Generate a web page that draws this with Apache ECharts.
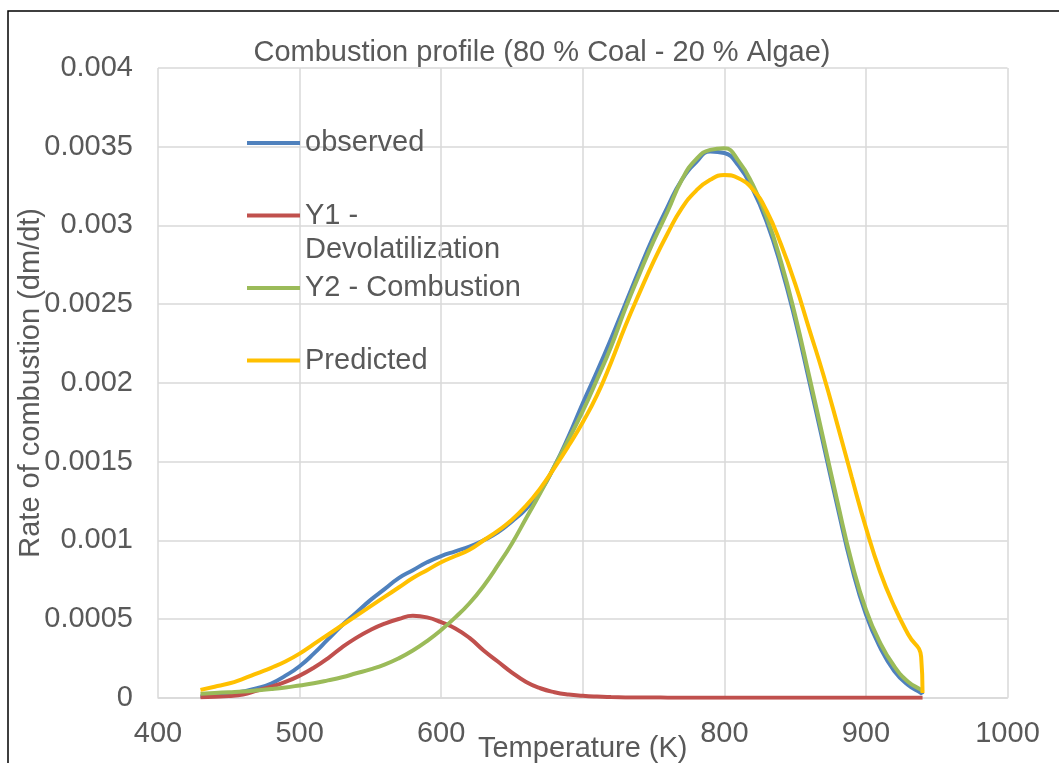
<!DOCTYPE html>
<html>
<head>
<meta charset="utf-8">
<script src="https://cdn.jsdelivr.net/npm/echarts@6/dist/echarts.min.js"></script>
<style>
html,body{margin:0;padding:0;background:#fff;}
#chart{width:1059px;height:763px;}
</style>
</head>
<body>
<div id="chart"></div>
<script>
var chartTitle = 'Combustion profile (80 % Coal - 20 % Algae)';
var xTitle = 'Temperature (K)';
var yTitle = 'Rate of combustion (dm/dt)';
var seriesNames = ['observed', 'Y1 - Devolatilization', 'Y2 - Combustion', 'Predicted'];
// tick labels hidden under the axis title in the original
var hiddenXLabels = [700];

var temperature = [430,440,450,460,470,480,490,500,510,520,530,540,550,560,570,580,590,600,610,620,630,640,650,660,670,680,690,700,710,720,730,740,750,760,770,780,790,800,810,820,830,840,850,860,870,880,890,900,910,920,930,939,940];

var observed = [0.00001,0.000015,0.000025,0.00004,0.00006,0.00009,0.00014,0.0002,0.00028,0.00037,0.00046,0.00054,0.00062,0.00069,0.00076,0.00081,0.00086,0.0009,0.00093,0.00096,0.001,0.00105,0.00112,0.0012,0.00131,0.00147,0.00166,0.00187,0.00207,0.00228,0.0025,0.00272,0.00293,0.00312,0.00329,0.0034,0.00347,0.00346,0.00338,0.00323,0.00302,0.00274,0.0024,0.00201,0.00161,0.00121,0.00083,0.00053,0.00032,0.00017,0.00008,0.00003,0.00002];

var y1Devol = [0.000003,0.000006,0.00001,0.00002,0.000045,0.00007,0.0001,0.00014,0.00019,0.00025,0.00032,0.00038,0.00043,0.00047,0.0005,0.00052,0.00051,0.00048,0.00044,0.00038,0.0003,0.00023,0.00016,0.0001,0.00006,0.000035,0.00002,0.000012,0.000007,0.000004,0.000002,0.000001,0.000001,0,0,0,0,0,0,0,0,0,0,0,0,0,0,0,0,0,0,0,0];

var y2Comb = [0.000025,0.00003,0.000035,0.00004,0.000047,0.000055,0.000065,0.000078,0.000092,0.00011,0.00013,0.000155,0.00018,0.00021,0.00025,0.0003,0.00036,0.00043,0.00051,0.0006,0.00071,0.00084,0.00098,0.00114,0.0013,0.00147,0.00164,0.00182,0.00202,0.00223,0.00247,0.00269,0.0029,0.00309,0.00329,0.00342,0.00348,0.00349,0.00341,0.00326,0.00305,0.00277,0.00243,0.00204,0.00164,0.00124,0.00086,0.00056,0.00035,0.0002,0.0001,0.00005,0.00004];

var predicted = [0.00005,0.00007,0.00009,0.00012,0.000155,0.00019,0.00023,0.00028,0.00034,0.0004,0.00046,0.00052,0.00058,0.00064,0.0007,0.00076,0.00081,0.00086,0.0009,0.00094,0.001,0.00106,0.00113,0.00122,0.00133,0.00146,0.0016,0.00175,0.00192,0.00213,0.00236,0.00257,0.00277,0.00295,0.00311,0.00322,0.00329,0.00332,0.0033,0.00323,0.00309,0.00288,0.00263,0.00234,0.00205,0.00173,0.0014,0.00108,0.0008,0.00058,0.0004,0.00026,0.00003];

var colors = ['#4F81BD', '#C0504D', '#9BBB59', '#FFC000'];
var textColor = '#595959';
var gridColor = '#D9D9D9';
var font = 'Liberation Sans, Arial, sans-serif';
var fs = 29;

function pairs(vals) {
  return temperature.map(function (t, i) { return [t, vals[i]]; });
}
var allValues = [observed, y1Devol, y2Comb, predicted];

var chart = echarts.init(document.getElementById('chart'), null, {renderer: 'canvas'});
var option = {
  backgroundColor: '#fff',
  animation: false,
  title: {
    text: chartTitle,
    left: 537,
    top: 33,
    textAlign: 'center',
    textStyle: {color: textColor, fontFamily: font, fontSize: fs, fontWeight: 'normal'}
  },
  legend: {
    orient: 'vertical',
    left: 247,
    top: 128,
    padding: 0,
    icon: 'rect',
    itemWidth: 53,
    itemHeight: 4,
    itemGap: 42.5,
    data: seriesNames,
    formatter: function (name) { return name === 'Y1 - Devolatilization' ? 'Y1 -' : name; },
    textStyle: {color: textColor, fontFamily: font, fontSize: fs, lineHeight: 30}
  },
  graphic: [
    {type: 'text', left: 305, top: 235, style: {text: 'Devolatilization', fill: textColor, font: fs + 'px ' + font}},
    {type: 'rect', shape: {x: 8, y: 11, width: 1100, height: 800}, style: {fill: 'none', stroke: '#000', lineWidth: 1.5}, silent: true}
  ],
  grid: {left: 158, right: 51.5, top: 68, bottom: 65.3, outerBoundsMode: 'none', containLabel: false},
  xAxis: {
    type: 'value', min: 400, max: 1000, interval: 100,
    name: xTitle, nameLocation: 'middle', nameGap: 37, nameMoveOverlap: false,
    nameTextStyle: {color: textColor, fontFamily: font, fontSize: fs},
    axisLine: {show: true, lineStyle: {color: gridColor, width: 1.5}},
    axisTick: {show: false},
    axisLabel: {color: textColor, fontFamily: font, fontSize: fs, margin: 22,
      formatter: function (v) { return hiddenXLabels.indexOf(v) >= 0 ? '' : String(v); }},
    splitLine: {show: true, lineStyle: {color: gridColor, width: 1.5}}
  },
  yAxis: {
    type: 'value', min: 0, max: 0.004, interval: 0.0005,
    name: yTitle, nameLocation: 'middle', nameGap: 113, nameRotate: 90, nameMoveOverlap: false,
    nameTextStyle: {color: textColor, fontFamily: font, fontSize: fs},
    axisLine: {show: false},
    axisTick: {show: false},
    axisLabel: {color: textColor, fontFamily: font, fontSize: fs, margin: 25},
    splitLine: {show: true, lineStyle: {color: gridColor, width: 1.5}}
  },
  series: seriesNames.map(function (n, i) {
    return {
      name: n, type: 'line', data: pairs(allValues[i]),
      smooth: 0.5, symbol: 'none', showSymbol: false,
      lineStyle: {color: colors[i], width: 4},
      itemStyle: {color: colors[i]}
    };
  })
};
chart.setOption(option);
</script>
</body>
</html>
